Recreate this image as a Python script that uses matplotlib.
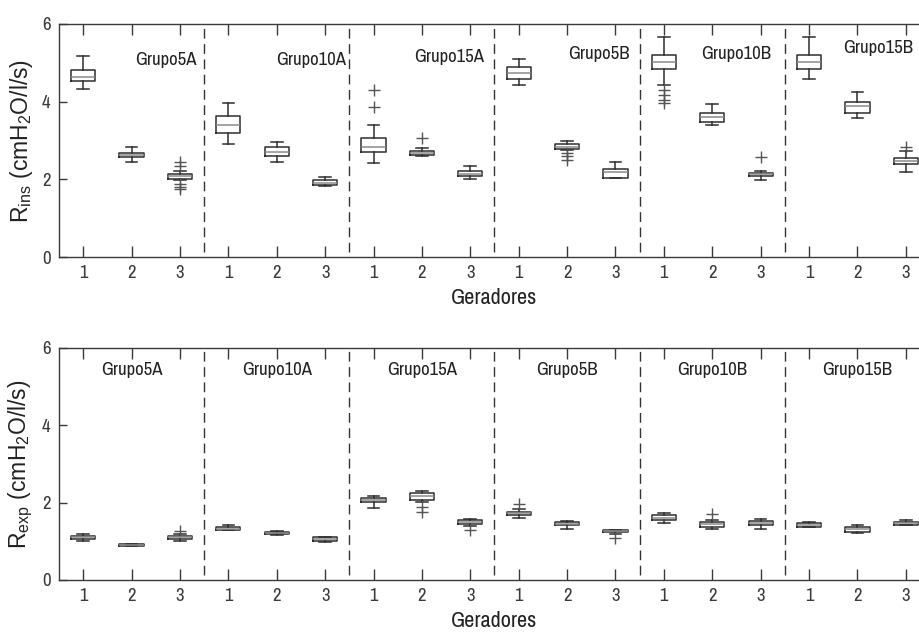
import matplotlib
matplotlib.use("Agg")
import matplotlib.pyplot as plt
from matplotlib import font_manager

# ---------------- data ----------------
groups = ["Grupo5A", "Grupo10A", "Grupo15A", "Grupo5B", "Grupo10B", "Grupo15B"]
generator_labels = ["1", "2", "3"]

# R_ins (top panel) - 18 boxes (6 groups x 3 generators)
ins_whislo = [4.33, 2.45, 1.97, 2.91, 2.45, 1.83, 2.43, 2.61, 2.01, 4.43, 2.76, 2.03, 4.43, 3.40, 1.98, 4.58, 3.59, 2.20]
ins_q1     = [4.53, 2.57, 2.01, 3.20, 2.61, 1.85, 2.71, 2.63, 2.09, 4.58, 2.79, 2.04, 4.84, 3.47, 2.09, 4.84, 3.72, 2.40]
ins_med    = [4.64, 2.63, 2.08, 3.40, 2.71, 1.91, 2.84, 2.69, 2.15, 4.75, 2.84, 2.20, 5.01, 3.60, 2.13, 5.01, 3.89, 2.47]
ins_q3     = [4.82, 2.69, 2.15, 3.63, 2.82, 1.98, 3.07, 2.74, 2.21, 4.88, 2.90, 2.26, 5.19, 3.70, 2.17, 5.19, 4.00, 2.54]
ins_whishi = [5.18, 2.84, 2.22, 3.96, 2.97, 2.07, 3.40, 2.80, 2.35, 5.10, 2.99, 2.45, 5.67, 3.94, 2.22, 5.67, 4.26, 2.73]
ins_fliers = [[], [], [2.45, 2.34, 1.89, 1.81, 1.74], [], [], [],
              [3.87, 4.30], [3.06], [], [], [2.69, 2.60, 2.51], [],
              [4.31, 4.18, 4.05, 3.97], [], [2.58], [], [], [2.84]]

# R_exp (bottom panel)
exp_whislo = [1.02, 0.88, 1.00, 1.29, 1.17, 0.98, 1.86, 2.01, 1.40, 1.60, 1.31, 1.19, 1.48, 1.32, 1.32, 1.36, 1.21, 1.41]
exp_q1     = [1.05, 0.89, 1.06, 1.30, 1.18, 1.01, 2.01, 2.07, 1.44, 1.67, 1.41, 1.23, 1.55, 1.38, 1.41, 1.36, 1.23, 1.41]
exp_med    = [1.10, 0.91, 1.10, 1.32, 1.21, 1.05, 2.07, 2.18, 1.49, 1.73, 1.45, 1.27, 1.61, 1.44, 1.47, 1.42, 1.31, 1.47]
exp_q3     = [1.14, 0.93, 1.14, 1.36, 1.23, 1.10, 2.13, 2.24, 1.54, 1.77, 1.49, 1.29, 1.67, 1.49, 1.52, 1.47, 1.36, 1.51]
exp_whishi = [1.19, 0.94, 1.18, 1.42, 1.28, 1.12, 2.18, 2.30, 1.57, 1.83, 1.53, 1.29, 1.73, 1.55, 1.57, 1.49, 1.41, 1.54]
exp_fliers = [[], [], [1.27], [], [], [],
              [], [1.90, 1.77], [1.29], [1.97], [], [1.08],
              [], [1.71], [], [], [], []]

yticks = [0, 2, 4, 6]
ins_ylabel = r"$\mathregular{R_{ins}\ (cmH_2O/l/s)}$"
exp_ylabel = r"$\mathregular{R_{exp}\ (cmH_2O/l/s)}$"
xlabel = "Geradores"

# label placement (style)
top_label_pos = [(2.07, 5.07), (4.99, 5.07), (7.84, 5.15), (11.02, 5.23), (13.77, 5.23), (16.70, 5.38)]
bot_label_pos = [(2, 5.43), (5, 5.43), (8, 5.43), (11, 5.43), (14, 5.43), (17, 5.43)]

# ---------------- style ----------------
narrow = None
for f in font_manager.fontManager.ttflist:
    nm = f.name
    if any(k in nm for k in ("Narrow", "Condensed")) and f.weight in (400, "normal", "regular") \
            and f.style == "normal" and not nm.startswith("DejaVu"):
        narrow = f
        break
if narrow is None:
    for f in font_manager.fontManager.ttflist:
        if f.stretch in ("condensed", "semi-condensed", "extra-condensed") and f.style == "normal" \
                and f.weight in (400, "normal", "regular") and not f.name.startswith("DejaVu"):
            narrow = f
            break

if narrow is not None:
    fam = narrow.name
    plt.rcParams["font.stretch"] = narrow.stretch
    TF, LF = 13.5, 16
else:
    fam = "Liberation Sans"
    TF, LF = 11, 13.5
YF = 16.5

plt.rcParams["font.family"] = [fam, "DejaVu Sans"]
plt.rcParams["mathtext.fontset"] = "custom"
plt.rcParams["mathtext.rm"] = fam
plt.rcParams["lines.scale_dashes"] = False

W, H = 919, 633
fig = plt.figure(figsize=(W / 100, H / 100), dpi=100)
fig.patch.set_facecolor("white")

dark = "#3a3a3a"
line_c = "#2e2e2e"
med_c = "#8a8a8a"


def make_stats(wlo, q1, med, q3, whi, fl):
    out = []
    for i in range(len(med)):
        out.append(dict(med=med[i], q1=q1[i], q3=q3[i], whislo=wlo[i], whishi=whi[i],
                        fliers=fl[i], label=""))
    return out


def panel(ax, stats, ylabel, label_pos, ha):
    n = len(stats)
    pos = list(range(1, n + 1))
    ax.bxp(stats, positions=pos, widths=0.5, capwidths=0.24, showfliers=True,
           boxprops=dict(color=line_c, linewidth=1.1),
           whiskerprops=dict(color=line_c, linewidth=1.1, linestyle="-"),
           capprops=dict(color=line_c, linewidth=1.1),
           medianprops=dict(color=med_c, linewidth=1.1),
           flierprops=dict(marker="+", markeredgecolor="#555555", markersize=8,
                           markeredgewidth=1.0, linestyle="none"),
           manage_ticks=False)
    ax.set_xlim(0.5, n + 0.5)
    ax.set_ylim(0, 6)
    ax.set_xticks(pos)
    ax.set_xticklabels(generator_labels * len(groups))
    ax.set_yticks(yticks)
    ax.tick_params(axis="x", direction="in", top=True, bottom=True, length=8,
                   width=1.0, colors=dark, labelsize=TF, pad=6)
    ax.tick_params(axis="y", direction="in", left=True, right=False, length=6,
                   width=1.0, colors=dark, labelsize=TF, pad=6)
    for s in ["left", "bottom", "top"]:
        ax.spines[s].set_color(dark)
        ax.spines[s].set_linewidth(1.0)
    ax.spines["right"].set_visible(False)
    seps = [3 * k + 0.5 for k in range(1, len(groups))]
    ax.vlines(seps, 0.12, 6, colors="#333333", linewidth=1.0, linestyles=[(0, (7, 4))])
    for g, (x, y) in zip(groups, label_pos):
        ax.text(x, y, g, ha=ha, va="center", fontsize=TF, color="#222222")
    ax.set_xlabel(xlabel, fontsize=LF, color="#222222", labelpad=5)
    ax.set_ylabel(ylabel, fontsize=YF, color="#222222", labelpad=5,
                  fontfamily=["Liberation Sans", "DejaVu Sans"], fontstretch="normal")


ax_w = 871 / W
ax1 = fig.add_axes([59 / W, (H - 257) / H, ax_w, 233 / H])
ax2 = fig.add_axes([59 / W, (H - 580) / H, ax_w, 232 / H])

panel(ax1, make_stats(ins_whislo, ins_q1, ins_med, ins_q3, ins_whishi, ins_fliers),
      ins_ylabel, top_label_pos, "left")
panel(ax2, make_stats(exp_whislo, exp_q1, exp_med, exp_q3, exp_whishi, exp_fliers),
      exp_ylabel, bot_label_pos, "center")

fig.savefig("out.png", dpi=100)
